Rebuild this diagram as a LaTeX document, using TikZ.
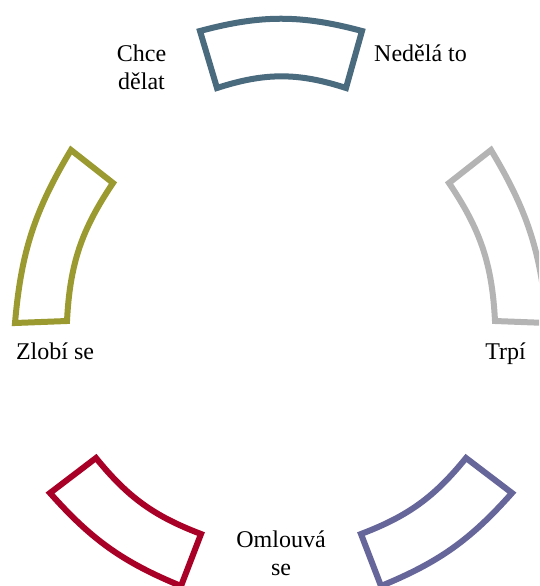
\documentclass[tikz,border=0pt]{standalone}
\usepackage{fontspec}
\setmainfont{Liberation Serif}
\usepackage{xcolor}
\usepackage{tikz}
\definecolor{segTop}{RGB}{74,106,126}
\definecolor{segLeft}{RGB}{154,154,48}
\definecolor{segRight}{RGB}{180,180,180}
\definecolor{segLowL}{RGB}{168,0,38}
\definecolor{segLowR}{RGB}{102,102,154}
\tikzset{
  cyc/.style={x=1pt, y=-1pt},
  cy seg/.style={draw, line width=6pt, fill=white, line join=miter},
  cy lab/.style={font=\rmfamily\fontsize{24}{28}\selectfont, align=center, inner sep=0pt, anchor=base},
}

\begin{document}
\begin{tikzpicture}[cyc]
\useasboundingbox (0, 0) rectangle (539, 586);
\clip (0, 0) rectangle (539, 586);
% ---- segments ----
\draw[cy seg, draw=segTop]   (200, 31) to[bend left=15] (362, 31) -- (346, 88) to[bend right=18] (217, 88) -- cycle;
\draw[cy seg, draw=segLeft]  (71, 150) to[bend right=13] (15, 323) -- (67, 321) to[bend left=15.5] (113, 183) -- cycle;
\draw[cy seg, draw=segRight] (491, 150) to[bend left=13] (547, 323) -- (495, 321) to[bend right=15.5] (449, 183) -- cycle;
\draw[cy seg, draw=segLowL]  (50, 493) to[bend right=13] (181, 586) -- (201, 534) to[bend left=15] (96, 458) -- cycle;
\draw[cy seg, draw=segLowR]  (512, 493) to[bend left=13] (381, 586) -- (361, 534) to[bend right=15] (466, 458) -- cycle;
% ---- labels (base = last line) ----
\node[cy lab] (want)   at (141.5, 89.3) {Chce\\dělat};
\node[cy lab] (dont)   at (420.5, 61.7) {Nedělá to};
\node[cy lab] (suffer) at (505.5, 359.3) {Trpí};
\node[cy lab] (sorry)  at (281, 575) {Omlouvá\\se};
\node[cy lab] (angry)  at (55, 359.3) {Zlobí se};
\end{tikzpicture}
\end{document}
